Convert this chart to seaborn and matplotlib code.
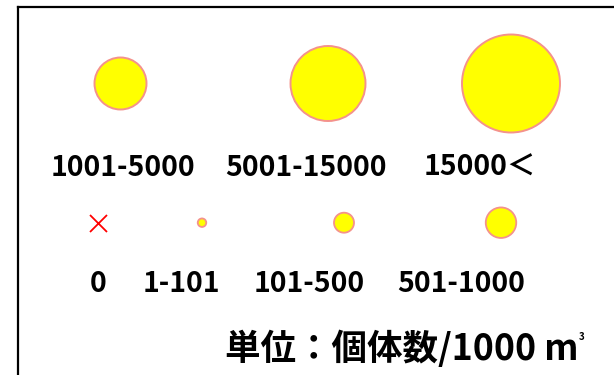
"""Legend card: bubble size classes (individuals per 1000 m3)."""

import matplotlib
matplotlib.use("Agg")
import matplotlib.pyplot as plt
import pandas as pd
import seaborn as sns

# ---------------------------------------------------------------------------
# Data: size classes
# ---------------------------------------------------------------------------
top_labels = ["1001-5000", "5001-15000", "15000＜"]
bottom_labels = ["0", "1-101", "101-500", "501-1000"]
unit_text = "単位：個体数/1000 m"

# ---------------------------------------------------------------------------
# Layout / style (pixel coordinates of the card)
# ---------------------------------------------------------------------------
W, H, DPI = 614, 375, 100
BORDER_X, BORDER_Y = 18.3, 6.7

top_marker_x = [120.5, 328, 511]
top_marker_d = [52, 75, 98]          # marker diameter, px
top_text_x = [122.5, 306, 480]
top_row_y, top_text_y = 83.5, 167.5

bottom_marker_x = [98, 202, 344, 501]
bottom_marker_d = [17, 8.5, 20, 30.5]
bottom_text_x = [98, 181, 309, 461]
bottom_row_y, bottom_text_y = 222.7, 284

FILL = "#ffff00"
EDGE = "#f4928c"
FONT = ["Noto Sans CJK JP", "DejaVu Sans"]

sns.set_theme(style="white")
plt.rcParams["font.family"] = FONT


def px_to_area(d):
    # scatter size is in points^2
    return (d * 72 / DPI) ** 2


fig = plt.figure(figsize=(W / DPI, H / DPI), dpi=DPI)
ax = fig.add_axes([BORDER_X / W, 0, (W - BORDER_X) / W, (H - BORDER_Y) / H])
ax.set_xlim(BORDER_X, W)
ax.set_ylim(H, BORDER_Y)
ax.set_xticks([])
ax.set_yticks([])
for side in ("right", "bottom"):
    ax.spines[side].set_visible(False)
for side in ("left", "top"):
    ax.spines[side].set_color("black")
    ax.spines[side].set_linewidth(1.6)

# circles of the upper row
top_df = pd.DataFrame({"x": top_marker_x, "y": [top_row_y] * 3, "cls": top_labels})
sns.scatterplot(data=top_df, x="x", y="y", size="cls",
                sizes={c: px_to_area(d) for c, d in zip(top_labels, top_marker_d)},
                color=FILL, edgecolor=EDGE, linewidth=1.4, legend=False, ax=ax)

# lower row: cross for zero, circles for the rest
bot_df = pd.DataFrame({"x": bottom_marker_x, "y": [bottom_row_y] * 4, "cls": bottom_labels})
sns.scatterplot(data=bot_df.iloc[:1], x="x", y="y", marker="x",
                s=px_to_area(bottom_marker_d[0]), color="#ff0000",
                linewidth=1.3, legend=False, ax=ax)
sns.scatterplot(data=bot_df.iloc[1:], x="x", y="y", size="cls",
                sizes={c: px_to_area(d) for c, d in zip(bottom_labels[1:], bottom_marker_d[1:])},
                color=FILL, edgecolor=EDGE, linewidth=1.3, legend=False, ax=ax)

for x, lab in zip(top_text_x, top_labels):
    ax.text(x, top_text_y, lab, ha="center", va="center",
            fontsize=20.5, fontweight="bold", color="black", family=FONT)
for x, lab in zip(bottom_text_x, bottom_labels):
    ax.text(x, bottom_text_y, lab, ha="center", va="center",
            fontsize=20.5, fontweight="bold", color="black", family=FONT)

unit = ax.text(225, 349, unit_text, ha="left", va="center",
               fontsize=25.6, fontweight="bold", color="black", family=FONT)

# superscript 3 just right of the "m"
fig.canvas.draw()
bb = unit.get_window_extent().transformed(ax.transData.inverted())
ax.text(bb.x1 + 0.5, 337, "3", ha="left", va="center",
        fontsize=7, fontweight="bold", color="black", family=FONT)

ax.set_xlabel("")
ax.set_ylabel("")
fig.savefig("out.png", dpi=DPI, facecolor="white")
